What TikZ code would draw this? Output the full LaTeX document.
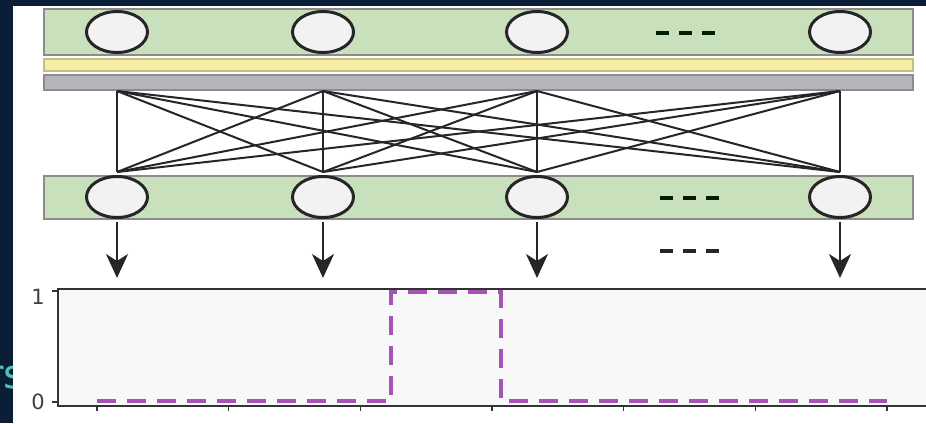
\documentclass[tikz,border=0pt]{standalone}
\usepackage{fontspec}
\setmainfont{DejaVu Sans}
\usetikzlibrary{shapes.geometric,arrows.meta}
\definecolor{navy}{HTML}{0B1E38}
\definecolor{teal}{HTML}{4EC4B4}
\definecolor{layergreen}{HTML}{C8E0BC}
\definecolor{layeryellow}{HTML}{F6EEA4}
\definecolor{layergray}{HTML}{B7B4BA}
\definecolor{barline}{HTML}{8C8C8C}
\definecolor{plotbg}{HTML}{F8F8F8}
\definecolor{stepline}{HTML}{A553B4}
\tikzset{
  layer/.style={draw=barline, line width=1.6pt},
  unit/.style={ellipse, draw=black!85, line width=3pt, fill=white!95!black,
    minimum width=61pt, minimum height=41pt, inner sep=0pt},
  wire/.style={draw=black!85, line width=2pt},
  outarrow/.style={draw=black!85, line width=2pt,
    -{Stealth[length=24pt, width=22pt, inset=7pt]}},
  ellipsis/.style={line width=4pt, dash pattern=on 13pt off 10pt},
  axisline/.style={draw=black!80, line width=1.5pt},
  tick/.style={draw=black!80, line width=1.3pt},
  ticklabel/.style={font=\fontsize{21pt}{21pt}\selectfont, text=black!75, inner sep=0pt},
  stepcurve/.style={draw=stepline, line width=4.5pt, dash pattern=on 19pt off 11pt}
}
\begin{document}
\begin{tikzpicture}[x=1pt, y=-1pt]
\useasboundingbox (0,0) rectangle (926,423);
% dark surround and the partly hidden caption
\fill[navy] (0,0) rectangle (926,423);
\node[anchor=base east, inner sep=0pt, text=teal,
  font=\fontsize{40pt}{40pt}\selectfont] (caption) at (25,388) {rs};
\fill[white] (13,6) rectangle (926,423);

% upper layer: units, then a thin yellow and a gray band
\draw[layer, fill=layergreen] (44,9) rectangle (913,55);
\draw[layer, fill=layeryellow, draw=layeryellow!80!black] (44,59) rectangle (913,71);
\draw[layer, fill=layergray] (44,75) rectangle (913,90);
\foreach \i/\x in {1/117, 2/323, 3/537, 4/840}
  \node[unit] (tc\i) at (\x,32) {};
\draw[ellipsis, draw=black!80!green!60!black] (656,33) -- (716,33);

% lower layer
\draw[layer, fill=layergreen] (44,176) rectangle (913,219);
\foreach \i/\x in {1/117, 2/323, 3/537, 4/840}
  \node[unit] (bc\i) at (\x,197) {};
\draw[ellipsis, draw=black!80!green!60!black] (660,198) -- (720,198);

% full connection between the two layers
\foreach \i/\x in {1/117, 2/323, 3/537, 4/840} {
  \coordinate (t\i) at (\x,91);
  \coordinate (b\i) at (\x,172);
}
\foreach \i in {1,...,4}
  \foreach \j in {1,...,4}
    \draw[wire] (t\i) -- (b\j);

% outputs fed into the plot
\foreach \i in {1,...,4} {
  \coordinate (o\i) at (bc\i.south |- 0,278);
  \draw[outarrow] (bc\i.south |- 0,222) -- (o\i);
}
\draw[ellipsis, draw=black!85] (660,251) -- (720,251);

% step-function plot
\fill[plotbg] (58,289) rectangle (926,406);
\draw[axisline] (926,289) -- (58,289) -- (58,406) -- (926,406);
\draw[tick] (52,291) -- (58,291);
\draw[tick] (52,402) -- (58,402);
\node[ticklabel, anchor=east] (one) at (45,297) {1};
\node[ticklabel, anchor=east] (zero) at (45,402) {0};
\foreach \k in {0,...,6}
  \draw[tick] ({97+131.67*\k},406) -- ({97+131.67*\k},411);
\draw[stepcurve] (97,401) -- (391,401) -- (391,292) -- (501,292)
  -- (501,401) -- (887,401);
\end{tikzpicture}
\end{document}
